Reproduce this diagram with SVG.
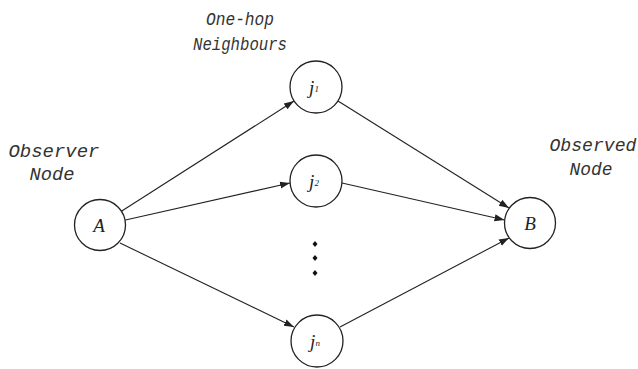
<svg xmlns="http://www.w3.org/2000/svg" width="638" height="369" viewBox="0 0 638 369">
<style>
.node circle{fill:#fff;stroke:#222;stroke-width:1.3}
.nl{font-family:"Liberation Serif",serif;font-style:italic;font-size:19px;fill:#222;text-anchor:middle}
.sub{font-size:9px}
.lab{font-family:"Liberation Mono",monospace;font-style:italic;font-size:18px;fill:#333;text-anchor:middle}
.edge{stroke:#222;stroke-width:1.1;fill:none;marker-end:url(#ah)}
</style>
<defs>
<marker id="ah" viewBox="0 0 10 10" refX="10" refY="5" markerWidth="10" markerHeight="10" markerUnits="userSpaceOnUse" orient="auto">
<path d="M0,1.5 L10,5 L0,8.5 Z" fill="#222"/>
</marker>
</defs>
<rect width="638" height="369" fill="#fff"/>
<g id="connectors">
<line class="edge" x1="121" y1="211.5" x2="294" y2="101"/>
<line class="edge" x1="125.5" y1="220" x2="290" y2="183"/>
<line class="edge" x1="120" y1="243" x2="294" y2="327"/>
<line class="edge" x1="338" y1="101" x2="509" y2="208"/>
<line class="edge" x1="342" y1="183" x2="504.5" y2="220"/>
<line class="edge" x1="340" y1="327" x2="509" y2="238"/>
</g>
<g id="A" class="node"><circle cx="100" cy="225" r="25.5"/><text class="nl" x="99" y="232">A</text></g>
<g id="B" class="node"><circle cx="530" cy="223" r="25.5"/><text class="nl" x="530" y="230">B</text></g>
<g id="j1" class="node"><circle cx="316" cy="87" r="26"/><text class="nl" x="314" y="94">j<tspan class="sub" dy="-2">1</tspan></text></g>
<g id="j2" class="node"><circle cx="316" cy="181" r="26"/><text class="nl" x="314" y="188">j<tspan class="sub" dy="-2">2</tspan></text></g>
<g id="jn" class="node"><circle cx="317" cy="341" r="26"/><text class="nl" x="315" y="348">j<tspan class="sub" dy="-2">n</tspan></text></g>
<g id="dots" fill="#111">
<path d="M315,241 l2.5,3 l-2.5,3 l-2.5,-3 Z"/>
<path d="M315,255 l2.5,3 l-2.5,3 l-2.5,-3 Z"/>
<path d="M315,270 l2.5,3 l-2.5,3 l-2.5,-3 Z"/>
</g>
<g id="labels">
<text class="lab" x="240" y="25" textLength="68" lengthAdjust="spacingAndGlyphs">One-hop</text>
<text class="lab" x="240" y="50" textLength="94" lengthAdjust="spacingAndGlyphs">Neighbours</text>
<text class="lab" x="54" y="157" textLength="91" lengthAdjust="spacingAndGlyphs">Observer</text>
<text class="lab" x="52" y="180" textLength="45" lengthAdjust="spacingAndGlyphs">Node</text>
<text class="lab" x="593" y="151" textLength="87" lengthAdjust="spacingAndGlyphs">Observed</text>
<text class="lab" x="591" y="175" textLength="43" lengthAdjust="spacingAndGlyphs">Node</text>
</g>
</svg>
